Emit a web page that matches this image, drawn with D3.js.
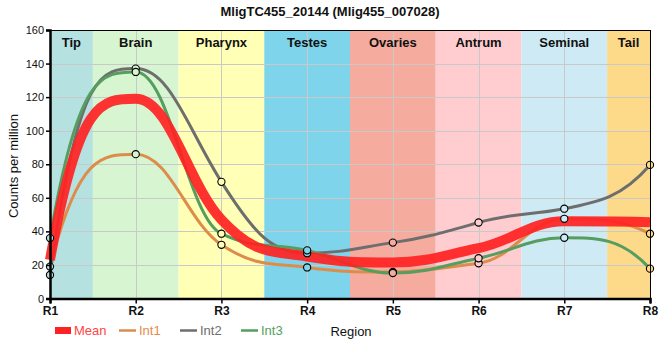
<!DOCTYPE html>
<html>
<head>
<meta charset="utf-8">
<script src="https://cdn.jsdelivr.net/npm/d3@7"></script>
<style>
  html, body { margin: 0; padding: 0; background: #fff; }
  svg { display: block; font-family: "Liberation Sans", Arial, sans-serif; }
</style>
</head>
<body>
<svg id="chart" width="660" height="360"></svg>
<script>
// ---------- data ----------
const title = "MligTC455_20144 (Mlig455_007028)";
const regions = ["R1", "R2", "R3", "R4", "R5", "R6", "R7", "R8"];
const bandNames = ["Tip", "Brain", "Pharynx", "Testes", "Ovaries", "Antrum", "Seminal", "Tail"];
const bandColors = ["#b5e1e0", "#d6f5d0", "#ffffb5", "#7ed4ea", "#f5ac9f", "#ffcdd0", "#ceeaf4", "#fdd98a"];
const meanValues = [23, 119, 47, 25, 21.5, 30, 46, 45.5];
const int1Values = [19, 86, 32, 18.5, 15.8, 21, 47.5, 38.6];
const int2Values = [14, 137, 69.5, 27, 33.3, 45.3, 53.5, 79.6];
const int3Values = [36, 135, 38.6, 28.7, 15.2, 24, 36.2, 17.8];
const yTicks = [0, 20, 40, 60, 80, 100, 120, 140, 160];
const seriesNames = ["Int1", "Int2", "Int3"];
const seriesColors = ["#de8c4c", "#6e6e6e", "#559e60"];
const meanColor = "#ff2222";

// ---------- layout ----------
const svg = d3.select("#chart");
const padL = 50, padR = 650, padT = 30, padB = 298.5;
const x = d3.scaleLinear().domain([1, regions.length]).range([padL, padR]);
const y = d3.scaleLinear().domain([0, 160]).range([padB, padT]);

// bands
const bands = bandNames.map((name, i) => ({
  name, color: bandColors[i],
  x0: Math.max(1, i + 0.5), x1: Math.min(regions.length, i + 1.5)
}));
svg.append("g").selectAll("rect").data(bands).join("rect")
  .attr("x", d => x(d.x0)).attr("y", padT)
  .attr("width", d => x(d.x1) - x(d.x0)).attr("height", padB - padT)
  .attr("fill", d => d.color);

// grid
const grid = svg.append("g").attr("stroke", "#c9c9c9").attr("stroke-width", 1);
grid.selectAll(".h").data(yTicks.filter(t => t > 0 && t < 160)).join("line")
  .attr("x1", padL).attr("x2", padR)
  .attr("y1", d => Math.round(y(d)) + 0.5).attr("y2", d => Math.round(y(d)) + 0.5);
grid.selectAll(".v").data(d3.range(2, regions.length)).join("line")
  .attr("y1", padT).attr("y2", padB)
  .attr("x1", d => Math.round(x(d)) + 0.5).attr("x2", d => Math.round(x(d)) + 0.5);

// band labels
svg.append("g").selectAll("text").data(bands).join("text")
  .attr("x", d => x((d.x0 + d.x1) / 2)).attr("y", 47)
  .attr("text-anchor", "middle").attr("font-size", 13).attr("font-weight", "bold")
  .attr("fill", "#111").text(d => d.name);

// smooth curve: cubic Bezier through the points, flat at local extrema
function tangents(v) {
  const n = v.length, m = new Array(n).fill(0);
  for (let i = 1; i < n - 1; i++) {
    const s0 = v[i] - v[i - 1], s1 = v[i + 1] - v[i];
    if (s0 * s1 <= 0) { m[i] = 0; continue; }
    const lim = 2.5 * Math.min(Math.abs(s0), Math.abs(s1));
    m[i] = Math.sign(s0) * Math.min(Math.abs(1.2 * s0), lim);
  }
  const sA = v[1] - v[0];
  let mA = 3 * sA - 2 * m[1];
  if (mA * sA < 0) mA = 0;
  m[0] = mA;
  const sB = v[n - 1] - v[n - 2];
  let mB = 3 * sB - 2 * m[n - 2];
  if (mB * sB < 0) mB = 0;
  m[n - 1] = mB;
  return m;
}
function curvePath(v) {
  const n = v.length, m = tangents(v);
  const p = d3.path();
  p.moveTo(x(1), y(v[0]));
  for (let i = 0; i < n - 1; i++) {
    const a = i + 1, b = i + 2;
    const hA = (i === 0) ? 1 / 3 : 0.4;
    const hB = (i + 1 === n - 1) ? 1 / 3 : 0.4;
    p.bezierCurveTo(
      x(a + hA), y(v[i] + m[i] * hA),
      x(b - hB), y(v[i + 1] - m[i + 1] * hB),
      x(b), y(v[i + 1]));
  }
  return p.toString();
}

const intSeries = [int1Values, int2Values, int3Values];
const lines = svg.append("g").attr("fill", "none");
intSeries.forEach((vals, k) => {
  lines.append("path").attr("d", curvePath(vals))
    .attr("stroke", seriesColors[k]).attr("stroke-width", 3);
});
lines.append("path").attr("d", curvePath(meanValues))
  .attr("stroke", meanColor).attr("stroke-width", 10).attr("stroke-opacity", 0.92);

// markers
const markers = svg.append("g");
intSeries.forEach(vals => {
  markers.selectAll(null).data(vals).join("circle")
    .attr("cx", (d, i) => x(i + 1)).attr("cy", d => y(d)).attr("r", 3.6)
    .attr("fill", (d, i) => bandColors[i]).attr("stroke", "#000").attr("stroke-width", 1.1);
});

// frame
svg.append("rect").attr("x", padL + 0.5).attr("y", padT + 0.5)
  .attr("width", padR - padL).attr("height", padB - padT - 0.5)
  .attr("fill", "none").attr("stroke", "#000").attr("stroke-width", 1);

// axes
const yAxis = svg.append("g").attr("transform", `translate(${padL},0)`)
  .call(d3.axisLeft(y).tickValues(yTicks).tickSize(4).tickPadding(2).tickFormat(d3.format("d")));
yAxis.select(".domain").attr("stroke", "#000").attr("stroke-width", 2.5);
yAxis.selectAll(".tick line").attr("stroke", "#000").attr("stroke-width", 1.5);
yAxis.selectAll(".tick text").attr("font-size", 11).attr("fill", "#111")
  .attr("font-family", "'Liberation Sans', Arial, sans-serif");

const xAxis = svg.append("g").attr("transform", `translate(0,${padB})`)
  .call(d3.axisBottom(x).tickValues(d3.range(1, regions.length + 1)).tickSize(5).tickPadding(3)
    .tickFormat(d => regions[d - 1]));
xAxis.select(".domain").attr("stroke", "#000").attr("stroke-width", 2.5);
xAxis.selectAll(".tick line").attr("stroke", "#000").attr("stroke-width", 1.5);
xAxis.selectAll(".tick text").attr("font-size", 12).attr("font-weight", "bold").attr("fill", "#111")
  .attr("font-family", "'Liberation Sans', Arial, sans-serif");

// title
svg.append("text").attr("x", 330).attr("y", 16).attr("text-anchor", "middle")
  .attr("font-size", 13).attr("font-weight", "bold").attr("fill", "#111").text(title);

// y label
svg.append("text").attr("transform", "translate(18,166) rotate(-90)")
  .attr("text-anchor", "middle").attr("font-size", 13).attr("fill", "#111")
  .text("Counts per million");

// legend
const legend = svg.append("g").attr("font-size", 13);
legend.append("rect").attr("x", 55).attr("y", 327).attr("width", 16).attr("height", 7).attr("fill", meanColor);
legend.append("text").attr("x", 74).attr("y", 335).attr("fill", "#ff4444").text("Mean");
const legendX = [119, 180, 241];
seriesNames.forEach((name, k) => {
  legend.append("line").attr("x1", legendX[k]).attr("x2", legendX[k] + 17)
    .attr("y1", 330.5).attr("y2", 330.5).attr("stroke", seriesColors[k]).attr("stroke-width", 2.5);
  legend.append("text").attr("x", legendX[k] + 20).attr("y", 335)
    .attr("fill", seriesColors[k]).text(name);
});
legend.append("text").attr("x", 351).attr("y", 336).attr("text-anchor", "middle")
  .attr("fill", "#111").text("Region");
</script>
</body>
</html>
